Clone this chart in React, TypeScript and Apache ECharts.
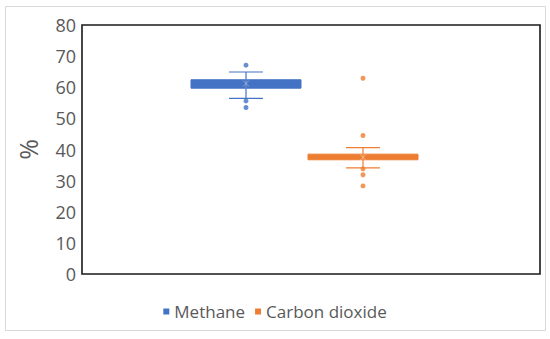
import React, { useEffect, useRef } from "react";
import * as echarts from "echarts";

const categories = ["Methane", "Carbon dioxide"];
const yTicks = [0, 10, 20, 30, 40, 50, 60, 70, 80];
// [categoryIndex, min whisker, Q1, median, Q3, max whisker, mean]
const methaneBox = [[0, 56.4, 59.7, 61.0, 62.4, 64.9, 61.2]];
const co2Box = [[1, 34.1, 36.7, 37.6, 38.5, 40.6, 37.5]];
const methanePoints = [[0, 67.1], [0, 55.6], [0, 53.5]];
const co2Points = [[1, 62.9], [1, 44.5], [1, 33.8], [1, 31.9], [1, 28.3]];

const BLUE = "#4472C4";
const ORANGE = "#ED7D31";

function makeRender(color: string) {
  return (params: any, api: any) => {
    const x = api.value(0);
    const vals = [1, 2, 3, 4, 5, 6].map((i) => api.value(i));
    const [mn, q1, med, q3, mx, mean] = vals;
    const band = api.size([1, 0])[0];
    const bw = band * 0.94;
    const cw = band * 0.29;
    const pMin = api.coord([x, mn]);
    const pQ1 = api.coord([x, q1]);
    const pMed = api.coord([x, med]);
    const pQ3 = api.coord([x, q3]);
    const pMax = api.coord([x, mx]);
    const pMean = api.coord([x, mean]);
    const cx = pMin[0];
    const lineStyle = { stroke: color, lineWidth: 1.2, fill: null };
    const m = 3;
    return {
      type: "group",
      children: [
        { type: "line", shape: { x1: cx, y1: pMax[1], x2: cx, y2: pQ3[1] }, style: lineStyle },
        { type: "line", shape: { x1: cx, y1: pQ1[1], x2: cx, y2: pMin[1] }, style: lineStyle },
        { type: "line", shape: { x1: cx - cw / 2, y1: pMax[1], x2: cx + cw / 2, y2: pMax[1] }, style: lineStyle },
        { type: "line", shape: { x1: cx - cw / 2, y1: pMin[1], x2: cx + cw / 2, y2: pMin[1] }, style: lineStyle },
        {
          type: "rect",
          shape: { x: cx - bw / 2, y: pQ3[1], width: bw, height: pQ1[1] - pQ3[1] },
          style: { fill: color, stroke: color, lineWidth: 1 },
        },
        { type: "line", shape: { x1: cx - bw / 2, y1: pMed[1], x2: cx + bw / 2, y2: pMed[1] }, style: { stroke: color, lineWidth: 1 } },
        { type: "line", shape: { x1: cx, y1: pQ3[1], x2: cx, y2: pQ1[1] }, style: { stroke: "rgba(255,255,255,0.25)", lineWidth: 1 } },
        { type: "line", shape: { x1: cx - m, y1: pMean[1] - m, x2: cx + m, y2: pMean[1] + m }, style: { stroke: "rgba(255,255,255,0.35)", lineWidth: 1 } },
        { type: "line", shape: { x1: cx - m, y1: pMean[1] + m, x2: cx + m, y2: pMean[1] - m }, style: { stroke: "rgba(255,255,255,0.35)", lineWidth: 1 } },
      ],
    };
  };
}

export default function App() {
  const ref = useRef<HTMLDivElement>(null);
  useEffect(() => {
    if (!ref.current) return;
    const chart = echarts.init(ref.current, null, { renderer: "svg" });
    const font = "'Open Sans', 'Noto Sans', sans-serif";
    chart.setOption({
      animation: false,
      backgroundColor: "#ffffff",
      textStyle: { fontFamily: font },
      graphic: [
        {
          type: "rect",
          shape: { x: 5.5, y: 6.5, width: 540, height: 324 },
          style: { fill: "none", stroke: "#d9d9d9", lineWidth: 1 },
          silent: true,
        },
      ],
      legend: {
        data: categories,
        left: "center",
        top: 298,
        icon: "rect",
        itemWidth: 6,
        itemHeight: 6,
        itemGap: 10,
        textStyle: { fontFamily: font, fontSize: 17, color: "#595959" },
      },
      grid: [
        { left: 82, top: 25, width: 458, height: 249, show: true, borderColor: "#1a1a1a", borderWidth: 1.6, backgroundColor: "transparent" },
        { left: 187.5, top: 25, width: 234, height: 249 },
      ],
      xAxis: [
        { gridIndex: 0, type: "category", data: [""], show: false },
        { gridIndex: 1, type: "category", data: categories, show: false },
      ],
      yAxis: [
        {
          gridIndex: 0,
          type: "value",
          min: 0,
          max: 80,
          interval: 10,
          name: "%",
          nameLocation: "middle",
          nameGap: 42,
          nameRotate: 90,
          nameTextStyle: { fontFamily: font, fontSize: 25, color: "#595959" },
          axisLine: { show: false },
          axisTick: { show: false },
          splitLine: { show: false },
          axisLabel: {
            fontFamily: font,
            fontSize: 18,
            color: "#595959",
            margin: 6,
            formatter: (v: number) => (yTicks.includes(v) ? String(v) : ""),
          },
        },
        { gridIndex: 1, type: "value", min: 0, max: 80, show: false },
      ],
      series: [
        {
          name: "Methane",
          type: "custom",
          xAxisIndex: 1,
          yAxisIndex: 1,
          itemStyle: { color: BLUE },
          encode: { x: 0, y: [1, 2, 3, 4, 5] },
          renderItem: makeRender(BLUE),
          data: methaneBox,
        },
        {
          name: "Carbon dioxide",
          type: "custom",
          xAxisIndex: 1,
          yAxisIndex: 1,
          itemStyle: { color: ORANGE },
          encode: { x: 0, y: [1, 2, 3, 4, 5] },
          renderItem: makeRender(ORANGE),
          data: co2Box,
        },
        {
          name: "Methane",
          type: "scatter",
          xAxisIndex: 1,
          yAxisIndex: 1,
          symbolSize: 5,
          itemStyle: { color: BLUE },
          data: methanePoints,
        },
        {
          name: "Carbon dioxide",
          type: "scatter",
          xAxisIndex: 1,
          yAxisIndex: 1,
          symbolSize: 5,
          itemStyle: { color: ORANGE },
          data: co2Points,
        },
      ],
    });
    return () => chart.dispose();
  }, []);
  return (
    <div
      ref={ref}
      style={{ position: "fixed", left: 0, top: 0, width: 550, height: 339, background: "#fff" }}
    />
  );
}
